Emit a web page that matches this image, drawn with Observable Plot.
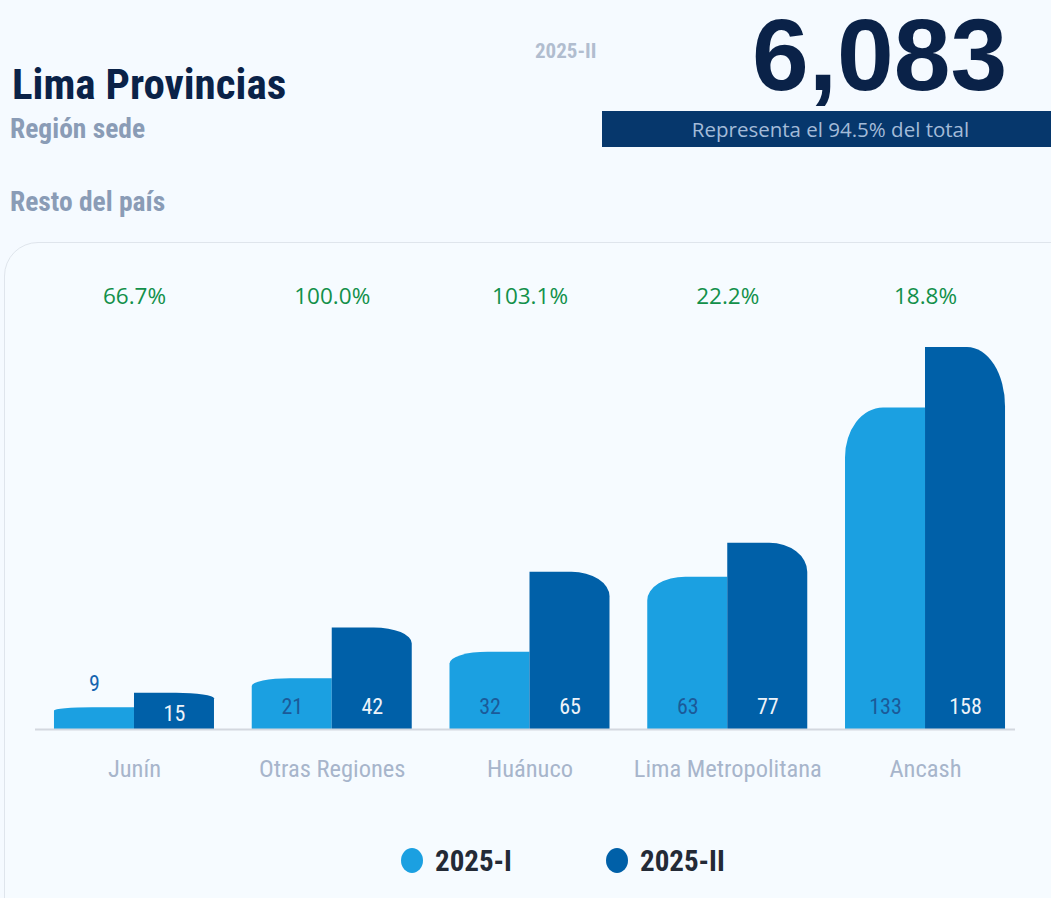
<!DOCTYPE html>
<html>
<head>
<meta charset="utf-8">
<script src="https://cdn.jsdelivr.net/npm/d3@7"></script>
<script src="https://cdn.jsdelivr.net/npm/@observablehq/plot@0.6"></script>
<style>
  html, body { margin: 0; padding: 0; }
  body { width: 1051px; height: 898px; background: #f5faff; position: relative; overflow: hidden;
         font-family: "Liberation Sans Narrow", "Roboto Condensed", "Arial Narrow", sans-serif; }
  .abs { position: absolute; white-space: nowrap; line-height: 1; }
  #card { position: absolute; left: 4px; top: 242px; width: 1100px; height: 720px; border: 1.5px solid #dfe5ec;
          border-radius: 34px; background: #f6fbff; box-sizing: border-box; }
  #chart { position: absolute; left: 0; top: 250px; }
  .narrow { font-family: "Liberation Sans Narrow", "Roboto Condensed", "Arial Narrow", sans-serif; }
</style>
</head>
<body>
<div id="card"></div>
<div class="abs narrow" id="period" style="left:535px; top:41px; font-size:21px; font-weight:700; color:#b1bdcf;"></div>
<div class="abs narrow" id="title" style="left:12px; top:63px; font-size:43px; font-weight:700; color:#0a2248;"></div>
<div class="abs narrow" id="sub1" style="left:10px; top:115px; font-size:27.5px; font-weight:700; color:#8a9cb6;"></div>
<div class="abs narrow" id="sub2" style="left:10px; top:188px; font-size:27.5px; font-weight:700; color:#8a9cb6;"></div>
<div class="abs" id="total" style="left:752px; top:4px; font-size:102px; font-weight:700; color:#0a2248; font-family:'Liberation Sans', Arial, sans-serif;"></div>
<div class="abs" id="band" style="left:602px; top:111px; width:449px; height:36px; background:#06376c; color:#a3bbd8;
     font-family:'Open Sans','Noto Sans',sans-serif; font-size:20.5px; line-height:36px; text-align:center; padding-left:8px; box-sizing:border-box;"></div>
<div id="chart"></div>
<div id="legend"></div>
<script>
// ---- data ----
const regions = ["Junín", "Otras Regiones", "Huánuco", "Lima Metropolitana", "Ancash"];
const values2025I = [9, 21, 32, 63, 133];
const values2025II = [15, 42, 65, 77, 158];
const seriesNames = ["2025-I", "2025-II"];
const seriesColors = ["#1ba0e1", "#0060a8"];
const titleText = "Lima Provincias";
const subtitleText = "Región sede";
const restText = "Resto del país";
const periodText = "2025-II";
const totalValue = 6083;
const sharePct = 94.5;

// ---- header ----
document.getElementById("period").textContent = periodText;
document.getElementById("title").textContent = titleText;
document.getElementById("sub1").textContent = subtitleText;
document.getElementById("sub2").textContent = restText;
document.getElementById("total").textContent = d3.format(",")(totalValue);
document.getElementById("band").textContent = `Representa el ${sharePct}% del total`;

// ---- table ----
const rows = regions.flatMap((r, i) => [
  {region: r, i, series: seriesNames[0], value: values2025I[i]},
  {region: r, i, series: seriesNames[1], value: values2025II[i]}
]);
const changes = regions.map((r, i) => ({region: r, i, pct: d3.format(".1%")(values2025II[i] / values2025I[i] - 1)}));

const half = 80 / 197.75; // bar width in category units

function cornerRender(corner) {
  return function(index, scales, values, dimensions, context, next) {
    const g = next(index, scales, values, dimensions, context);
    for (const r of Array.from(g.querySelectorAll("rect"))) {
      const x = +r.getAttribute("x"), y = +r.getAttribute("y");
      const w = +r.getAttribute("width"), h = +r.getAttribute("height");
      const rx = Math.min(38, w / 2), ry = h * 0.155;
      const p = document.createElementNS("http://www.w3.org/2000/svg", "path");
      const d = corner === "left"
        ? `M${x},${y + h}V${y + ry}A${rx},${ry} 0 0 1 ${x + rx},${y}H${x + w}V${y + h}Z`
        : `M${x},${y + h}V${y}H${x + w - rx}A${rx},${ry} 0 0 1 ${x + w},${y + ry}V${y + h}Z`;
      p.setAttribute("d", d);
      if (r.getAttribute("fill")) p.setAttribute("fill", r.getAttribute("fill"));
      r.replaceWith(p);
    }
    return g;
  };
}

const rowsI = rows.filter(d => d.series === seriesNames[0]);
const rowsII = rows.filter(d => d.series === seriesNames[1]);

const chart = Plot.plot({
  width: 1051,
  height: 560,
  marginTop: 97,
  marginBottom: 81,
  marginLeft: 35,
  marginRight: 36,
  style: {background: "transparent", fontFamily: "'Liberation Sans Narrow', 'Roboto Condensed', 'Arial Narrow', sans-serif", overflow: "visible"},
  x: {domain: [-0.5, regions.length - 0.5], range: [35.1, 1023.9], axis: null},
  y: {domain: [0, 158], axis: null},
  color: {domain: seriesNames, range: seriesColors},
  marks: [
    Plot.rect(rowsI, {x1: d => d.i - half, x2: d => d.i, y1: 0, y2: "value", fill: seriesColors[0], render: cornerRender("left")}),
    Plot.rect(rowsII, {x1: d => d.i, x2: d => d.i + half, y1: 0, y2: "value", fill: seriesColors[1], render: cornerRender("right")}),
    Plot.ruleY([0], {stroke: "#d3d8df", strokeWidth: 2}),
    // labels for 2025-I
    Plot.text(rowsI.filter(d => d.value >= 20), {x: d => d.i - half / 2, y: 0, text: d => String(d.value), dy: -23, lineAnchor: "middle", fill: "#1b5a99", fontSize: 22}),
    Plot.text(rowsI.filter(d => d.value < 20), {x: d => d.i - half / 2, y: "value", text: d => String(d.value), dy: -24, lineAnchor: "middle", fill: "#1565b0", fontSize: 22}),
    // labels for 2025-II
    Plot.text(rowsII.filter(d => d.value >= 20), {x: d => d.i + half / 2, y: 0, text: d => String(d.value), dy: -23, lineAnchor: "middle", fill: "#eef3f9", fontSize: 22}),
    Plot.text(rowsII.filter(d => d.value < 20), {x: d => d.i + half / 2, y: 0, text: d => String(d.value), dy: -16, lineAnchor: "middle", fill: "#eef3f9", fontSize: 22}),
    // category labels
    Plot.text(regions.map((r, i) => ({r, i})), {x: "i", y: 0, text: "r", dy: 40, lineAnchor: "middle", fill: "#a7b5cb", fontSize: 24.5}),
    // percent change
    Plot.text(changes, {x: "i", frameAnchor: "top", text: "pct", dy: -51, lineAnchor: "middle", fill: "#12904a", fontSize: 22.5, fontFamily: "'Open Sans', 'Noto Sans', sans-serif"})
  ]
});
document.getElementById("chart").appendChild(chart);

// ---- legend ----
const legend = document.getElementById("legend");
const legendX = [401, 606];
seriesNames.forEach((s, k) => {
  const dot = document.createElement("div");
  dot.style.cssText = `position:absolute;left:${legendX[k]}px;top:848px;width:22px;height:25px;border-radius:50%;background:${seriesColors[k]};`;
  legend.appendChild(dot);
  const t = document.createElement("div");
  t.className = "abs narrow";
  t.style.cssText += `left:${legendX[k] + 34}px;top:847px;font-size:29px;font-weight:700;color:#232a36;`;
  t.textContent = s;
  legend.appendChild(t);
});
</script>
</body>
</html>
